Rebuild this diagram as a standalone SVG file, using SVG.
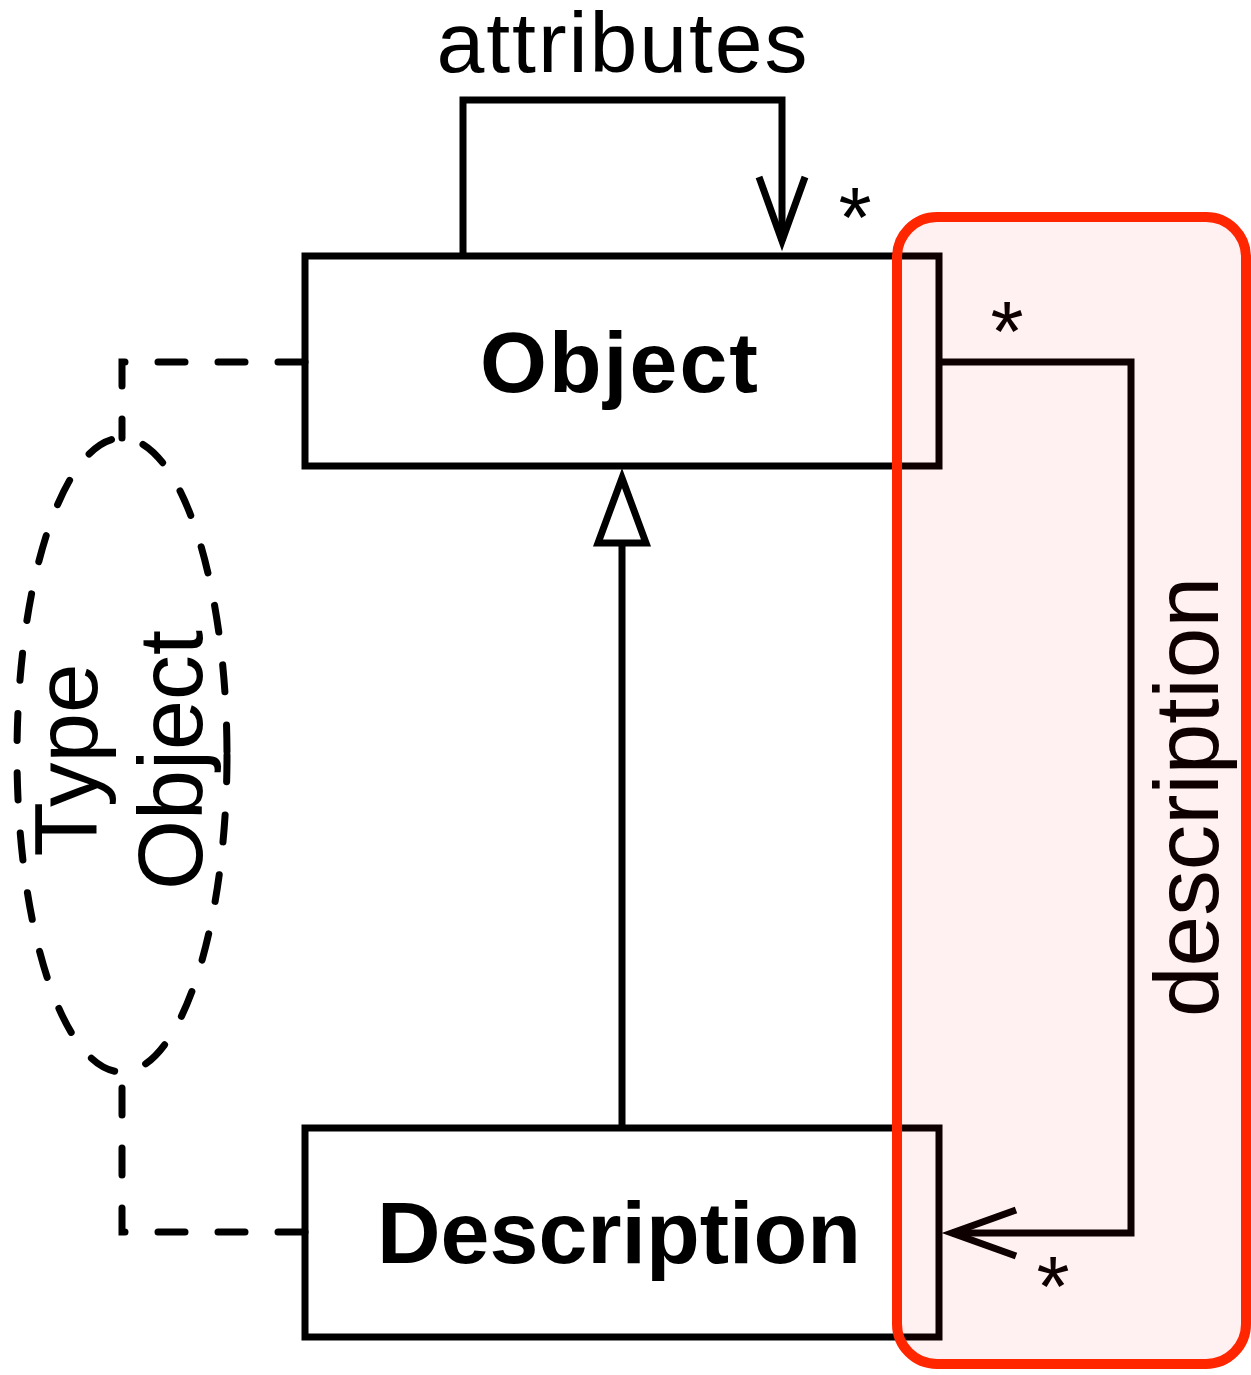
<svg xmlns="http://www.w3.org/2000/svg" width="1251" height="1375" viewBox="0 0 1251 1375">
  <style>
    .box { fill: #ffffff; stroke: #000000; stroke-width: 7; }
    .line { fill: none; stroke: #000000; stroke-width: 7; stroke-linejoin: miter; }
    .dash { fill: none; stroke: #000000; stroke-width: 7; stroke-linecap: round; stroke-dasharray: 27 33; }
    .title { font-family: "Liberation Sans", Arial, Helvetica, sans-serif; font-weight: bold; text-anchor: middle; fill: #000000; }
    .label { font-family: "Liberation Sans", Arial, Helvetica, sans-serif; text-anchor: middle; fill: #000000; }
    .mult { font-family: "Liberation Sans", Arial, Helvetica, sans-serif; font-size: 85px; text-anchor: middle; fill: #000000; }
  </style>
  <defs>
    <marker id="open-arrow" viewBox="-80 -30 90 60" markerWidth="90" markerHeight="60" refX="0" refY="0" orient="auto" markerUnits="userSpaceOnUse" overflow="visible">
      <path d="M -64 -23 L 0 0 L -64 23" fill="none" stroke="#000000" stroke-width="7" stroke-linejoin="miter"/>
    </marker>
  </defs>

  <rect width="1251" height="1375" fill="#ffffff"/>

  <!-- Type Object grouping -->
  <g id="type-object">
    <ellipse class="dash" cx="122" cy="755" rx="105" ry="317"/>
    <text class="label" font-size="89" transform="translate(97 760) rotate(-90)">Type</text>
    <text class="label" font-size="90" transform="translate(202 760) rotate(-90)">Object</text>
  </g>

  <!-- Classes -->
  <g id="object">
    <rect class="box" x="305" y="256" width="634" height="210"/>
    <text class="title" x="619" y="392" font-size="86" textLength="278">Object</text>
  </g>
  <g id="description">
    <rect class="box" x="305" y="1128" width="634" height="209"/>
    <text class="title" x="619" y="1263" font-size="88" textLength="484">Description</text>
  </g>

  <!-- Connectors -->
  <g id="connectors">
    <!-- attributes self-association -->
    <path class="line" d="M 463 256 L 463 100 L 782 100 L 782 241" marker-end="url(#open-arrow)"/>
    <text class="label" x="622" y="72" font-size="86" textLength="371">attributes</text>
    <text class="mult" x="855" y="247">*</text>

    <!-- generalization: Description is an Object -->
    <line class="line" x1="622" y1="1128" x2="622" y2="543"/>
    <polygon class="line" points="622,478 646,543 598,543" style="fill:#ffffff"/>

    <!-- description association -->
    <path class="line" d="M 939 362 L 1131 362 L 1131 1233 L 952 1233" marker-end="url(#open-arrow)"/>
    <text class="mult" x="1007" y="361">*</text>
    <text class="mult" x="1053" y="1316">*</text>
    <text class="label" font-size="91" transform="translate(1218 797) rotate(-90)">description</text>

    <!-- Type Object links -->
    <path class="dash" d="M 305 362 L 122 362 L 122 438"/>
    <path class="dash" d="M 305 1232 L 122 1232 L 122 1073"/>
  </g>

  <!-- highlight -->
  <g id="highlight">
    <rect x="897" y="217" width="349" height="1147" rx="40" ry="40" fill="#ff0000" fill-opacity="0.055" stroke="#ff2600" stroke-width="10"/>
  </g>
</svg>
